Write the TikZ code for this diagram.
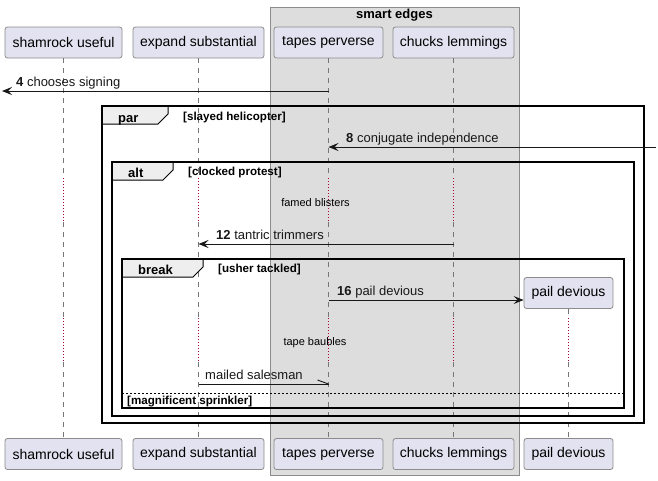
\documentclass[tikz,border=0pt]{standalone}
\usepackage{fontspec}
\setmainfont{Liberation Sans}
\usetikzlibrary{arrows.meta,calc}
\definecolor{partfill}{HTML}{E2E2F0}
\definecolor{partdraw}{HTML}{8C8C8C}
\definecolor{boxfill}{HTML}{DDDDDD}
\definecolor{boxdraw}{HTML}{8C8C8C}
\definecolor{tabfill}{HTML}{EEEEEE}
\definecolor{lifegray}{HTML}{777777}
\definecolor{delayred}{HTML}{A80036}
\definecolor{ink}{HTML}{181818}
\begin{document}
\begin{tikzpicture}[x=1pt,y=-1pt,
  part/.style={draw=partdraw, fill=partfill, rounded corners=2.5pt, minimum height=31pt, inner sep=0pt, line width=0.8pt, font=\fontsize{14}{16}\selectfont},
  life/.style={draw=lifegray, dash pattern=on 5pt off 5pt, line width=0.8pt},
  delayline/.style={draw=delayred, dash pattern=on 1pt off 2pt, line width=0.8pt},
  msg/.style={draw=ink, line width=0.9pt},
  arr/.style={msg, -{Stealth[length=10pt,width=8pt,inset=4pt]}},
  mlabel/.style={anchor=base west, inner sep=0pt, text=ink, font=\fontsize{13}{15}\selectfont},
  framebox/.style={draw=black, line width=1.5pt},
  tabshape/.style={fill=tabfill, draw=black, line width=1pt},
  fname/.style={anchor=base west, inner sep=0pt, font=\bfseries\fontsize{13}{15}\selectfont},
  fcond/.style={anchor=base west, inner sep=0pt, font=\bfseries\fontsize{11.6}{13}\selectfont},
  delaytxt/.style={anchor=base, inner sep=0pt, font=\fontsize{11}{13}\selectfont},
  elseline/.style={draw=black, line width=0.9pt, dash pattern=on 2pt off 2pt}
]
\useasboundingbox (0,0) rectangle (658,480);
% group box
\draw[fill=boxfill, draw=boxdraw, line width=0.8pt] (270,7) rectangle (519,475);
\node[anchor=base, inner sep=0pt, font=\bfseries\fontsize{13}{15}\selectfont] (boxtitle) at (394.5,18) {smart edges};

% participants
\node[part, minimum width=117pt] (s-top) at (63.5,42.5) {shamrock useful};
\node[part, minimum width=131pt] (e-top) at (198.5,42.5) {expand substantial};
\node[part, minimum width=109pt] (t-top) at (328.5,42.5) {tapes perverse};
\node[part, minimum width=121pt] (c-top) at (453.5,42.5) {chucks lemmings};
\node[part, minimum width=117pt] (s-bot) at (63.5,454) {shamrock useful};
\node[part, minimum width=131pt] (e-bot) at (198.5,454) {expand substantial};
\node[part, minimum width=109pt] (t-bot) at (328.5,454) {tapes perverse};
\node[part, minimum width=121pt] (c-bot) at (453.5,454) {chucks lemmings};
\node[part, minimum width=89pt] (p-top) at (568.5,293) {pail devious};
\node[part, minimum width=89pt] (p-bot) at (568.5,454) {pail devious};

% lifelines
\coordinate (d1a) at (0,178);
\coordinate (d1b) at (0,222);
\coordinate (d2a) at (0,318);
\coordinate (d2b) at (0,362);
\foreach \p in {s,e,t,c} {
  \draw[life] (\p-top.south) -- (\p-top.south |- d1a);
  \draw[delayline] (\p-top.south |- d1a) -- (\p-top.south |- d1b);
  \draw[life] (\p-top.south |- d1b) -- (\p-top.south |- d2a);
  \draw[delayline] (\p-top.south |- d2a) -- (\p-top.south |- d2b);
  \draw[life] (\p-top.south |- d2b) -- (\p-bot.north);
}
\draw[life] (p-top.south) -- (p-top.south |- d2a);
\draw[delayline] (p-top.south |- d2a) -- (p-top.south |- d2b);
\draw[life] (p-top.south |- d2b) -- (p-bot.north);

% frames
\draw[tabshape] (102,106) -- (168,106) -- (168,114) -- (158,124) -- (102,124) -- cycle;
\draw[framebox] (102,106) rectangle (644,423);
\node[fname] (parname) at (118,122) {par};
\node[fcond] (parcond) at (183,120) {[slayed helicopter]};

\draw[tabshape] (112,162) -- (173,162) -- (173,170) -- (163,180) -- (112,180) -- cycle;
\draw[framebox] (112,162) rectangle (634,416);
\node[fname] (altname) at (128,177.5) {alt};
\node[fcond] (altcond) at (188,175.5) {[clocked protest]};

\draw[tabshape] (122,259) -- (203,259) -- (203,267) -- (193,277) -- (122,277) -- cycle;
\draw[framebox] (122,259) rectangle (624,408);
\node[fname] (brkname) at (138,274.5) {break};
\node[fcond] (brkcond) at (218,272.5) {[usher tackled]};

\draw[elseline] (122,393) -- (624,393);
\node[fcond] (elsecond) at (127,404) {[magnificent sprinkler]};

% delays
\node[delaytxt] (delay1) at (315.5,206) {famed blisters};
\node[delaytxt] (delay2) at (315,345) {tape baubles};

% messages
\coordinate (m4L) at (2,91);
\draw[arr] (t-top.south |- m4L) -- (m4L);
\node[mlabel] (l4) at (16,86) {\textbf{4} chooses signing};

\coordinate (m8R) at (656,147);
\draw[arr] (m8R) -- (t-top.south |- m8R);
\node[mlabel] (l8) at (346,142) {\textbf{8} conjugate independence};

\coordinate (y12) at (0,244);
\draw[arr] (c-top.south |- y12) -- (e-top.south |- y12);
\node[mlabel] (l12) at (216,239) {\textbf{12} tantric trimmers};

\coordinate (y16) at (0,300);
\draw[arr] (t-top.south |- y16) -- (p-top.west |- y16);
\node[mlabel] (l16) at (337,295) {\textbf{16} pail devious};

\coordinate (y20) at (0,384);
\draw[msg] (e-top.south |- y20) -- (t-top.south |- y20);
\draw[msg] (t-top.south |- y20) -- ++(-11,-4);
\node[mlabel] (l20) at (205,379) {mailed salesman};
\end{tikzpicture}
\end{document}
